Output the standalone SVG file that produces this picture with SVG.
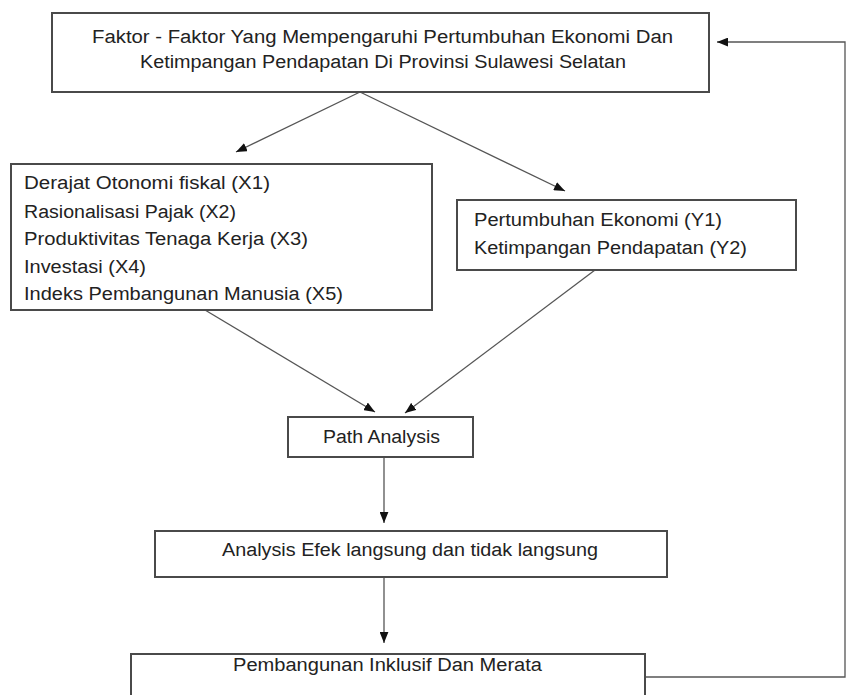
<svg xmlns="http://www.w3.org/2000/svg" width="846" height="695" viewBox="0 0 846 695">
<style>
.box{fill:#fff;stroke:#4a4a4a;stroke-width:2}
.t{font-family:"Liberation Sans",Arial,sans-serif;font-size:18px;fill:#222}
.c{fill:none;stroke:#555;stroke-width:1.3}
</style>
<defs>
<marker id="ah" viewBox="0 0 10 8" refX="10" refY="4" markerWidth="11" markerHeight="9" markerUnits="userSpaceOnUse" orient="auto">
<path d="M0,0 L10,4 L0,8 Z" fill="#111"/>
</marker>
</defs>
<rect width="846" height="695" fill="#fff"/>
<g id="connectors">
<line class="c" x1="360" y1="92" x2="236" y2="152" marker-end="url(#ah)"/>
<line class="c" x1="360" y1="92" x2="565" y2="191" marker-end="url(#ah)"/>
<line class="c" x1="205" y1="310" x2="375" y2="412" marker-end="url(#ah)"/>
<line class="c" x1="595" y1="270" x2="405" y2="413" marker-end="url(#ah)"/>
<line class="c" x1="384" y1="457" x2="384" y2="523" marker-end="url(#ah)"/>
<line class="c" x1="384" y1="577" x2="384" y2="643" marker-end="url(#ah)"/>
<polyline class="c" points="645,677 845,677 845,42 717,42" marker-end="url(#ah)"/>
</g>
<g id="node-top">
<rect class="box" x="52" y="13" width="657" height="79"/>
<text class="t" x="92" y="43" textLength="581" lengthAdjust="spacingAndGlyphs">Faktor - Faktor Yang Mempengaruhi Pertumbuhan Ekonomi Dan</text>
<text class="t" x="140" y="68" textLength="486" lengthAdjust="spacingAndGlyphs">Ketimpangan Pendapatan Di Provinsi Sulawesi Selatan</text>
</g>
<g id="node-x">
<rect class="box" x="11" y="164" width="421" height="146"/>
<text class="t" x="24" y="189" textLength="246" lengthAdjust="spacingAndGlyphs">Derajat Otonomi fiskal (X1)</text>
<text class="t" x="24" y="218" textLength="212" lengthAdjust="spacingAndGlyphs">Rasionalisasi Pajak (X2)</text>
<text class="t" x="24" y="245" textLength="284" lengthAdjust="spacingAndGlyphs">Produktivitas Tenaga Kerja (X3)</text>
<text class="t" x="24" y="273" textLength="122" lengthAdjust="spacingAndGlyphs">Investasi (X4)</text>
<text class="t" x="24" y="300" textLength="319" lengthAdjust="spacingAndGlyphs">Indeks Pembangunan Manusia (X5)</text>
</g>
<g id="node-y">
<rect class="box" x="457" y="200" width="339" height="70"/>
<text class="t" x="474" y="226" textLength="248" lengthAdjust="spacingAndGlyphs">Pertumbuhan Ekonomi (Y1)</text>
<text class="t" x="474" y="254" textLength="273" lengthAdjust="spacingAndGlyphs">Ketimpangan Pendapatan (Y2)</text>
</g>
<g id="node-path">
<rect class="box" x="288" y="417" width="185" height="40"/>
<text class="t" x="323" y="443" textLength="117" lengthAdjust="spacingAndGlyphs">Path Analysis</text>
</g>
<g id="node-analysis">
<rect class="box" x="155" y="531" width="512" height="46"/>
<text class="t" x="222" y="556" textLength="376" lengthAdjust="spacingAndGlyphs">Analysis Efek langsung dan tidak langsung</text>
</g>
<g id="node-bottom">
<rect class="box" x="131" y="654" width="514" height="60"/>
<text class="t" x="233" y="671" textLength="309" lengthAdjust="spacingAndGlyphs">Pembangunan Inklusif Dan Merata</text>
</g>
</svg>
